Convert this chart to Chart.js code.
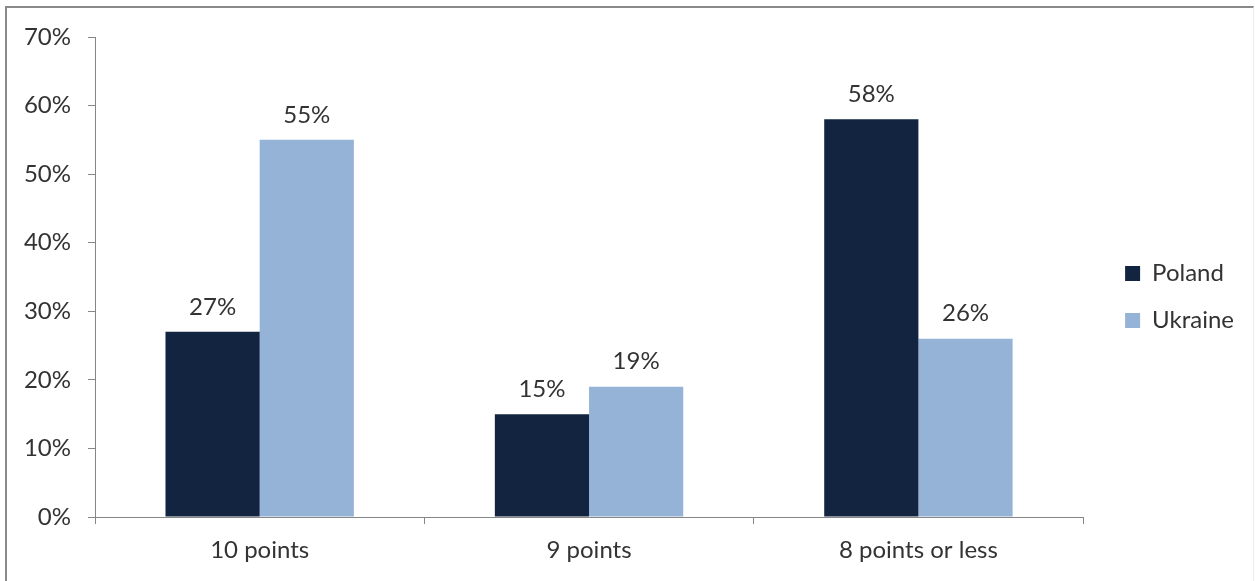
<!DOCTYPE html>
<html>
<head>
<meta charset="utf-8">
<script src="https://cdn.jsdelivr.net/npm/chart.js@4/dist/chart.umd.min.js"></script>
<style>
  html, body { margin: 0; padding: 0; background: #fff; }
  #wrap { position: relative; width: 1255px; height: 581px; overflow: hidden; }
  #frame {
    position: absolute; left: 5px; top: 6px; width: 1246px; height: 600px;
    border-top: 2px solid #8a8a8a; border-left: 2px solid #8a8a8a; border-right: 1px solid #ececec;
  }
  #c { position: absolute; left: 0; top: 0; }
</style>
</head>
<body>
<div id="wrap">
  <div id="frame"></div>
  <canvas id="c" width="1255" height="581"></canvas>
</div>
<script>
// Score distribution by country
const categories = ['10 points', '9 points', '8 points or less'];
const poland = [27, 15, 58];
const ukraine = [55, 19, 26];
const yTicks = [0, 10, 20, 30, 40, 50, 60, 70];

const FONT = 'Lato, "Open Sans", sans-serif';
const FS = 24;
const TEXT = '#333333';
const AXIS = '#868686';

// Percentage labels above each bar
const valueLabels = {
  id: 'valueLabels',
  afterDatasetsDraw(chart) {
    const ctx = chart.ctx;
    ctx.save();
    ctx.font = FS + 'px ' + FONT;
    ctx.fillStyle = TEXT;
    ctx.textAlign = 'center';
    ctx.textBaseline = 'bottom';
    chart.data.datasets.forEach((ds, i) => {
      chart.getDatasetMeta(i).data.forEach((bar, j) => {
        ctx.fillText(ds.data[j] + '%', bar.x, bar.y - 13);
      });
    });
    ctx.restore();
  }
};

// Nudge the legend block within the right margin
const legendOffset = {
  id: 'legendOffset',
  afterLayout(chart) {
    const lg = chart.legend;
    if (!lg) return;
    lg.left += 19; lg.right += 19;
    lg.top -= 12; lg.bottom -= 12;
  }
};

new Chart(document.getElementById('c'), {
  type: 'bar',
  data: {
    labels: categories,
    datasets: [
      { label: 'Poland', data: poland, backgroundColor: '#12243F', borderWidth: 0 },
      { label: 'Ukraine', data: ukraine, backgroundColor: '#95B3D7', borderWidth: 0 }
    ]
  },
  options: {
    responsive: false,
    animation: false,
    layout: { padding: { top: 37, left: 0, right: 30, bottom: 0 } },
    datasets: { bar: { barPercentage: 1, categoryPercentage: 0.572 } },
    plugins: {
      legend: {
        position: 'right',
        labels: {
          font: { family: FONT, size: FS },
          color: TEXT,
          boxWidth: 15,
          boxHeight: 15,
          padding: 23
        }
      },
      tooltip: { enabled: false }
    },
    scales: {
      x: {
        offset: true,
        grid: { offset: true, drawOnChartArea: false, drawTicks: true, tickLength: 7, color: AXIS },
        border: { color: AXIS, width: 1 },
        ticks: { font: { family: FONT, size: FS }, color: TEXT, padding: 12, maxRotation: 0 },
        afterFit(s) { s.height = 64; }
      },
      y: {
        min: 0, max: 70,
        afterBuildTicks(s) { s.ticks = yTicks.map(v => ({ value: v })); },
        grid: { drawOnChartArea: false, drawTicks: true, tickLength: 7, color: AXIS },
        border: { color: AXIS, width: 1 },
        ticks: { font: { family: FONT, size: FS }, color: TEXT, padding: 17, callback: v => v + '%' },
        afterFit(s) { s.width = 95; }
      }
    }
  },
  plugins: [valueLabels, legendOffset]
});
</script>
</body>
</html>
